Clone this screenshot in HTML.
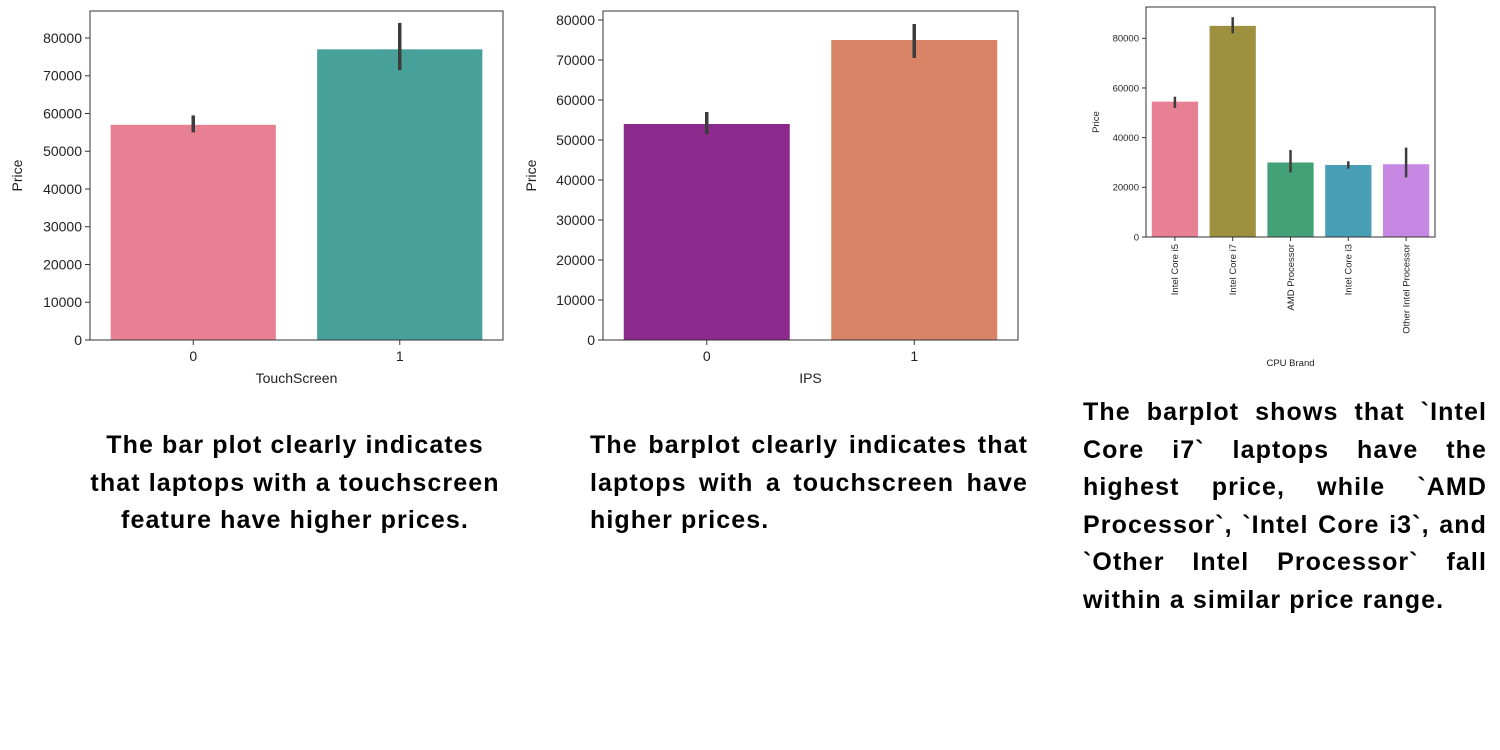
<!DOCTYPE html>
<html><head><meta charset="utf-8"><style>
body{margin:0;width:1500px;height:750px;background:#fff;position:relative;overflow:hidden;font-family:"Liberation Sans",sans-serif}
svg{position:absolute;left:0;top:0}
.cap{position:absolute;font-weight:bold;font-size:25px;line-height:37.5px;color:#000;letter-spacing:1.1px}
.cap div{white-space:nowrap}
.j{text-align:justify;text-align-last:justify}
</style></head><body>
<svg id="svg" width="1500" height="750"></svg>
<div class="cap" style="left:70px;top:427px;width:450px;text-align:center"><div>The bar plot clearly indicates</div><div>that laptops with a touchscreen</div><div>feature have higher prices.</div></div>
<div class="cap" style="left:590px;top:427px;width:438px"><div class="j">The barplot clearly indicates that</div><div class="j">laptops with a touchscreen have</div><div>higher prices.</div></div>
<div class="cap" style="left:1083px;top:394px;width:404px"><div class="j">The barplot shows that `Intel</div><div class="j">Core i7` laptops have the</div><div class="j">highest price, while `AMD</div><div class="j">Processor`, `Intel Core i3`, and</div><div class="j">`Other Intel Processor` fall</div><div>within a similar price range.</div></div>
<script>
const tsCategories=["0","1"];
const tsValues=[57000,77000];
const tsErrLow=[55000,71500];
const tsErrHigh=[59500,84000];
const ipsCategories=["0","1"];
const ipsValues=[54000,75000];
const ipsErrLow=[51500,70500];
const ipsErrHigh=[57000,79000];
const cpuCategories=["Intel Core i5","Intel Core i7","AMD Processor","Intel Core i3","Other Intel Processor"];
const cpuValues=[54500,85000,30000,29000,29300];
const cpuErrLow=[52000,82000,26000,27500,24000];
const cpuErrHigh=[56500,88500,35000,30500,36000];
const yTicks=[0,10000,20000,30000,40000,50000,60000,70000,80000];
const yTicksCpu=[0,20000,40000,60000,80000];
const NS="http://www.w3.org/2000/svg";
const svg=document.getElementById('svg');
function mk(tag,attrs,parent){const e=document.createElementNS(NS,tag);for(const k in attrs)e.setAttribute(k,attrs[k]);(parent||svg).appendChild(e);return e;}
function chart(o){
  const g=mk('g',{});
  
  
  const y=v=>o.b-(v/o.ymax)*(o.b-o.t);
  const n=o.cats.length, step=(o.r-o.l)/n;
  const x=i=>o.l+step*(i+0.5);
  o.vals.forEach((v,i)=>{
    const r=mk('rect',{x:x(i)-step*0.4,y:y(v),width:step*0.8,height:o.b-y(v),fill:o.colors[i]},g);
    
    
    const e=mk('line',{x1:x(i),x2:x(i),y1:y(o.lo[i]),y2:y(o.hi[i]),stroke:'#3c3c3c','stroke-width':o.ew},g);
    
    
  });
  mk('rect',{x:o.l,y:o.t,width:o.r-o.l,height:o.b-o.t,fill:'none',stroke:'#333','stroke-width':1},g);
  o.ticks.forEach(v=>{
    mk('line',{x1:o.l-o.tl,x2:o.l,y1:y(v),y2:y(v),stroke:'#333'},g);
    const t=mk('text',{x:o.l-o.tl-3,y:y(v)+o.fs*0.35,'text-anchor':'end','font-size':o.fs,fill:'#222'},g);
    t.textContent=v;
    
    
  });
  o.cats.forEach((c,i)=>{
    mk('line',{x1:x(i),x2:x(i),y1:o.b,y2:o.b+o.tl,stroke:'#333'},g);
    let t;
    if(o.rot){t=mk('text',{x:0,y:0,transform:`translate(${x(i)+o.fs*0.35},${o.b+o.tl+3}) rotate(-90)`,'text-anchor':'end','font-size':o.fs,fill:'#222'},g);}
    else t=mk('text',{x:x(i),y:o.b+o.tl+o.fs+2,'text-anchor':'middle','font-size':o.fs,fill:'#222'},g);
    t.textContent=c;
    
    
  });
  const yl=mk('text',{transform:`translate(${o.ylx},${(o.t+o.b)/2}) rotate(-90)`,'text-anchor':'middle','font-size':o.fs,fill:'#222'},g);
  yl.textContent='Price';
  
  
  const xl=mk('text',{x:(o.l+o.r)/2,y:o.xly,'text-anchor':'middle','font-size':o.fs,fill:'#222'},g);
  xl.textContent=o.xlabel;
  
  
}
chart({name:'touchscreen-chart',l:90,r:503,t:11,b:340,ymax:80000*(329/302),cats:tsCategories,vals:tsValues,lo:tsErrLow,hi:tsErrHigh,colors:['#e88093','#48a09b'],ticks:yTicks,fs:14,tl:5,ylx:22,xly:383,xlabel:'TouchScreen',ew:3.5});
chart({name:'ips-chart',l:603,r:1018,t:11,b:340,ymax:80000*(329/320),cats:ipsCategories,vals:ipsValues,lo:ipsErrLow,hi:ipsErrHigh,colors:['#8b298c','#d98367'],ticks:yTicks,fs:14,tl:5,ylx:536,xly:383,xlabel:'IPS',ew:3.5});
chart({name:'cpu-chart',l:1146,r:1435,t:7,b:237,ymax:80000*(230/198.7),cats:cpuCategories,vals:cpuValues,lo:cpuErrLow,hi:cpuErrHigh,colors:['#e88093','#9d913f','#44a076','#489fb5','#c788e3'],ticks:yTicksCpu,fs:9.5,tl:4,ylx:1099,xly:366,xlabel:'CPU Brand',ew:2.5,rot:true});
</script>
</body></html>
